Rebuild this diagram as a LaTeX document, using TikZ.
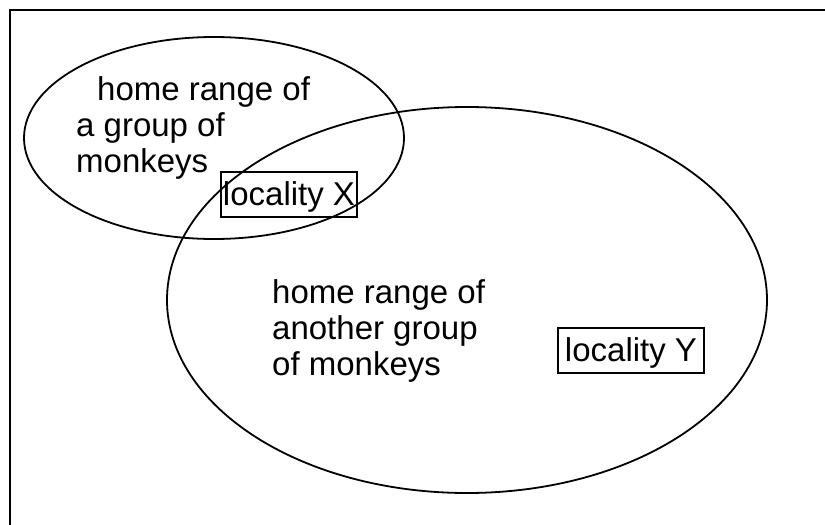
\documentclass[tikz,border=0pt]{standalone}
\usepackage{fontspec}
\setmainfont{Liberation Sans}
\usepackage{tikz}
\usetikzlibrary{shapes.geometric}

\begin{document}
\begin{tikzpicture}[x=1pt, y=-1pt,
        homerange/.style={ellipse, draw, line width=1.8pt, inner sep=0pt},
        rangetext/.style={anchor=north west, inner sep=0pt, align=left,
            font=\fontsize{33}{36}\selectfont},
        locbox/.style={draw, line width=1.8pt, inner xsep=1pt, minimum height=45pt,
            text height=26pt, text depth=4pt, font=\fontsize{33}{36}\selectfont}]
    \useasboundingbox (0,0) rectangle (825,525);
    % frame, cut off at the right and at the bottom
    \draw[line width=2.6pt] (10,530) -- (10,10) -- (830,10);
    % the two home ranges
    \node[homerange, minimum width=380pt, minimum height=202pt] (rangeA) at (214,138) {};
    \node[homerange, minimum width=600pt, minimum height=386pt] (rangeB) at (467,300) {};
    \node[rangetext] (textA) at (76,76) {\hspace*{21pt}home range of\\a group of\\monkeys};
    \node[rangetext] (textB) at (272,279) {home range of\\another group\\of monkeys};
    % localities
    \node[locbox, minimum width=136pt] (locX) at (289,194.5) {locality X};
    \node[locbox, minimum width=146pt] (locY) at (631,350.5) {locality Y};
\end{tikzpicture}
\end{document}
